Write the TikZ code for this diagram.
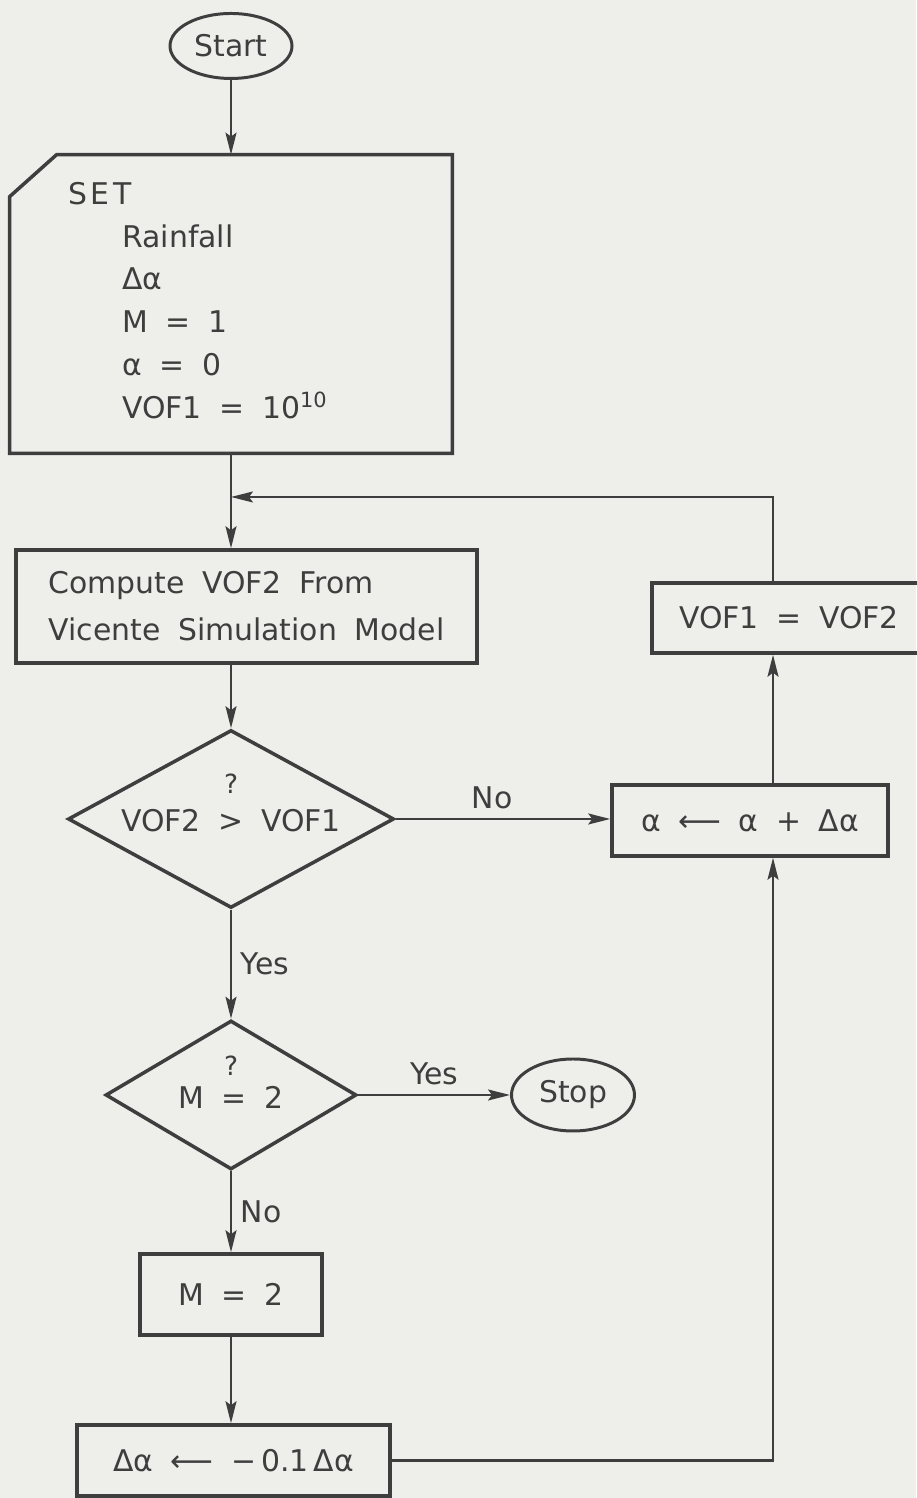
\documentclass[tikz,border=0pt]{standalone}
\usepackage{fontspec}
\setmainfont{DejaVu Sans}
\usetikzlibrary{shapes.geometric,arrows.meta}
\newcommand\widewords{\spaceskip 10pt plus 2pt minus 2pt\relax}

\begin{document}
\begin{tikzpicture}[x=1cm,y=1cm,>={Stealth[length=4.4mm,width=2.2mm,inset=.8mm]}]
\definecolor{paper}{RGB}{238,238,235}
\definecolor{ink}{RGB}{62,62,62}
\tikzset{
  lettering/.style={font=\fontsize{17}{24.3}\selectfont\widewords, text=ink},
  procbox/.style={lettering, draw=ink, line width=2pt, rectangle, inner sep=0pt},
  terminal/.style={lettering, draw=ink, line width=1.7pt, ellipse, inner sep=0pt},
  decision/.style={draw=ink, line width=2pt, diamond, inner sep=0pt},
  qmark/.style={font=\fontsize{15}{15}\selectfont, text=ink, inner sep=0pt},
  flow/.style={draw=ink, line width=1.2pt, ->},
  edgelabel/.style={lettering, inner sep=5pt}
}

\path[use as bounding box, fill=paper] (0,0) rectangle (18.32,29.96);

% start and initial settings
\node[terminal, minimum width=2.44cm, minimum height=1.30cm] (start) at (4.62,29.04) {Start};
\node[minimum width=8.84cm, minimum height=5.96cm, inner sep=0pt] (set) at (4.62,23.88) {};
\draw[ink, line width=2pt] (set.south west) -- (set.south east) -- (set.north east)
  -- ([xshift=.94cm]set.north west) -- ([yshift=-.84cm]set.north west) -- cycle;
\node[lettering, align=left, anchor=north west, inner sep=0pt] (setlist) at (1.36,26.32)
  {S\kern2pt E\kern2pt T\\
   \hspace*{1.08cm}Rainfall\\
   \hspace*{1.08cm}Δα\\
   \hspace*{1.08cm}M = 1\\
   \hspace*{1.08cm}α = 0\\
   \hspace*{1.08cm}VOF1 = 10\textsuperscript{10}};

% main column
\node[procbox, minimum width=9.22cm, minimum height=2.26cm, align=left] (model) at (4.93,17.83)
  {Compute VOF2 From\\[2.4pt]Vicente Simulation Model};
\node[decision, minimum width=6.52cm, minimum height=3.56cm] (cmp) at (4.62,13.58) {};
\node[lettering, inner sep=0pt] (cmptext) at ([yshift=-.03cm]cmp.center) {VOF2 > VOF1};
\node[qmark] (cmpq) at ([yshift=.7cm]cmp.center) {?};

\node[decision, minimum width=5.02cm, minimum height=2.98cm] (done) at (4.62,8.06) {};
\node[lettering, inner sep=0pt] (donetext) at ([yshift=-.04cm]done.center) {M = 2};
\node[qmark] (doneq) at ([yshift=.58cm]done.center) {?};
\node[terminal, minimum width=2.46cm, minimum height=1.44cm] (stop) at (11.46,8.06) {Stop};

\node[procbox, minimum width=3.64cm, minimum height=1.62cm] (second) at (4.62,4.07) {M = 2};
\node[procbox, minimum width=6.26cm, minimum height=1.42cm] (shrink) at (4.67,0.75) {Δα ⟵ −\,0.1\,Δα};

% right column
\node[procbox, minimum width=5.52cm, minimum height=1.42cm] (step) at (15.0,13.55) {α ⟵ α + Δα};
\node[procbox, minimum width=5.48cm, minimum height=1.40cm] (swap) at (15.78,17.6) {VOF1 = VOF2};
\coordinate (loopx) at (15.46,0);
\coordinate (merge) at (4.62,20.02);

% connectors
\draw[flow] (start) -- (set);
\draw[flow] (set.south) -- (set.south |- model.north);
\draw[flow] (swap.north -| loopx) |- (merge);
\draw[flow] (cmp.north |- model.south) -- (cmp.north);
\draw[flow] (cmp.east) -- node[edgelabel, above, pos=.45] {No} (cmp.east -| step.west);
\draw[flow] (step.north -| loopx) -- (swap.south -| loopx);
\draw[flow] (cmp.south) -- node[edgelabel, right] {Yes} (done.north);
\draw[flow] (done.east) -- node[edgelabel, above] {Yes} (stop.west);
\draw[flow] (done.south) -- node[edgelabel, right] {No} (second.north);
\draw[flow] (second.south) -- (second.south |- shrink.north);
\draw[flow] (shrink.east) -| (step.south -| loopx);
\end{tikzpicture}
\end{document}
